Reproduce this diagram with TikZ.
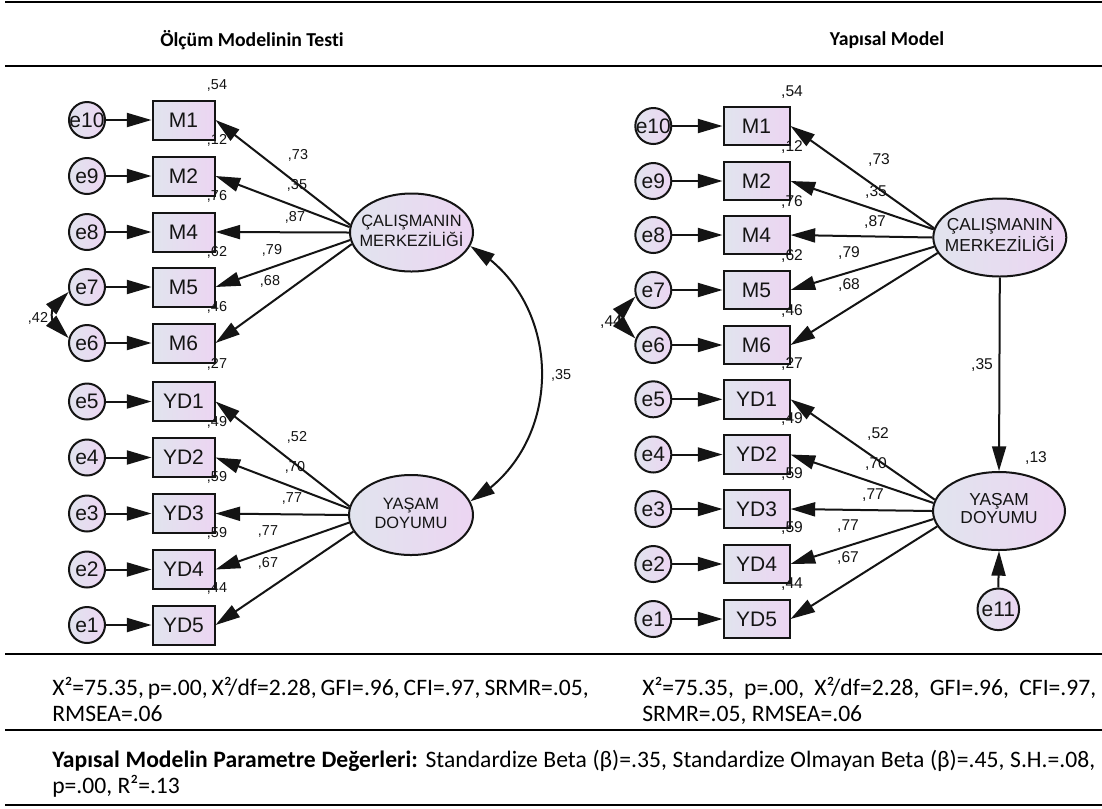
\documentclass[tikz,border=0pt]{standalone}
\usepackage{fontspec}
\setmainfont{Liberation Sans}
\newfontfamily\calib[RawFeature={-liga}]{Carlito}
\usetikzlibrary{arrows.meta,shapes.geometric,bending}
\definecolor{fa}{RGB}{225,228,238}
\definecolor{fb}{RGB}{236,213,242}
\definecolor{ink}{RGB}{20,20,20}
\newcommand{\twol}[2]{\makebox[0pt]{\begin{tabular}{@{}c@{}}#1\\#2\end{tabular}}}
\begin{document}
\begin{tikzpicture}[x=0.75pt,y=-0.75pt,
  every node/.style={text=ink},
  obs/.style={draw=ink,line width=1.5pt,rectangle,left color=fa,right color=fb,minimum width=62*0.75pt,minimum height=39*0.75pt,inner sep=0pt,font=\fontsize{15.75}{18}\selectfont},
  obsR/.style={obs,minimum width=66*0.75pt,minimum height=38.5*0.75pt},
  err/.style={draw=ink,line width=1.5pt,circle,left color=fa,right color=fb,minimum size=36*0.75pt,inner sep=0pt,font=\fontsize{15.75}{18}\selectfont},
  lat/.style={draw=ink,line width=1.5pt,ellipse,left color=fa,right color=fb,inner sep=0pt},
  arr/.style={line width=1.5pt,draw=ink,-{Triangle[length=18.5pt,width=10.5pt]}},
  dbl/.style={line width=1.5pt,draw=ink,{Triangle[length=18.5pt,width=10.5pt,flex]}-{Triangle[length=18.5pt,width=10.5pt,flex]}},
  coef/.style={font=\fontsize{10.8}{12}\selectfont,inner sep=0pt},
  coefR/.style={font=\fontsize{11.7}{13}\selectfont,inner sep=0pt},
  txt/.style={font=\calib\fontsize{17.7}{21.75}\selectfont,inner sep=0pt,anchor=base west,text=black},
  head/.style={font=\calib\bfseries\fontsize{14.8}{18}\selectfont,inner sep=0pt,text=black},
  thick rule/.style={line width=2pt},
  thin rule/.style={line width=0.8pt},
]
\useasboundingbox (0,0) rectangle (1102,808);
\fill[white] (0,0) rectangle (1102,808);

% rules
\draw[thick rule] (5,2) -- (1102,2);
\draw[thin rule] (5,66) -- (573,66);
\draw[thick rule] (573,66) -- (1102,66);
\draw[thin rule] (5,654) -- (573,654);
\draw[thick rule] (573,654) -- (1102,654);
\draw[thick rule] (5,730) -- (1102,730);
\draw[thick rule] (5,805) -- (1102,805);

% headings
\node[head] (h1) at (252,40) {Ölçüm Modelinin Testi};
\node[head] (h2) at (887,40) {Yapısal Model};

% ---------- left panel ----------
\foreach \n/\e/\y in {M1/e10/120, M2/e9/176, M4/e8/232, M5/e7/287, M6/e6/343, YD1/e5/401.5, YD2/e4/457.5, YD3/e3/513.5, YD4/e2/569.5, YD5/e1/625} {
  \node[err] (L\e) at (87,\y) {\makebox[0pt]{\e}};
  \node[obs] (L\n) at (183.5,\y) {\n};
  \draw[arr] (L\e) -- (L\n);
}
\node[lat,minimum width=123*0.75pt,minimum height=78*0.75pt,font=\fontsize{12.3}{14}\selectfont] (LC) at (411.5,232.5) {\twol{ÇALIŞMANIN}{MERKEZİLİĞİ}};
\node[lat,minimum width=124*0.75pt,minimum height=80*0.75pt,font=\fontsize{12.3}{14}\selectfont] (LY) at (411,515) {\twol{YAŞAM}{DOYUMU}};
\foreach \n/\a in {M1/173, M2/175, M4/180, M5/187, M6/191} \draw[arr] (LC.\a) -- (L\n.east);
\foreach \n/\a in {YD1/172, YD2/174, YD3/180, YD4/187, YD5/196} \draw[arr] (LY.\a) -- (L\n.east);
\draw[dbl] (LC.-13) .. controls (566,300) and (566,448) .. (LY.13);
\draw[dbl] (Le7.195) .. controls (46,303) and (46,327) .. (Le6.165);

\foreach \v/\y in {54/85, 12/140, 76/196, 62/252, 46/307, 27/364, 49/422, 59/477, 59/533, 44/588}
  \node[coef] at (217,\y) {,\v};
\foreach \v/\x/\y in {73/298/155, 35/297/185, 87/295/217, 79/272/250, 68/270/281, 52/297/437, 70/295/467, 77/292/498, 77/268/531, 67/268/563}
  \node[coef] at (\x,\y) {,\v};
\node[coef] at (38,318) {,42};
\node[coef] at (561,375) {,35};

% ---------- right panel ----------
\foreach \n/\e/\y in {M1/e10/126, M2/e9/181, M4/e8/235, M5/e7/290, M6/e6/345, YD1/e5/399.3, YD2/e4/454.5, YD3/e3/509, YD4/e2/564, YD5/e1/619} {
  \node[err] (R\e) at (653.3,\y) {\makebox[0pt]{\e}};
  \node[obsR] (R\n) at (756.5,\y) {\n};
  \draw[arr] (R\e) -- (R\n);
}
\node[lat,minimum width=133*0.75pt,minimum height=78*0.75pt,font=\fontsize{13}{13.8}\selectfont] (RC) at (999.8,237.5) {\twol{ÇALIŞMANIN}{MERKEZİLİĞİ}};
\node[lat,minimum width=132*0.75pt,minimum height=78*0.75pt,font=\fontsize{13}{13.8}\selectfont] (RY) at (999,511) {\twol{YAŞAM}{DOYUMU}};
\node[err,minimum size=41.6*0.75pt] (Re11) at (998.3,609.3) {\makebox[0pt]{e11}};
\foreach \n/\a in {M1/172, M2/173, M4/180, M5/188, M6/194} \draw[arr] (RC.\a) -- (R\n.east);
\foreach \n/\a in {YD1/170, YD2/173, YD3/180, YD4/187, YD5/194} \draw[arr] (RY.\a) -- (R\n.east);
\draw[arr] (RC.south) -- (RY.north);
\draw[arr] (Re11.north) -- (RY.south);
\draw[dbl] (Re7.200) .. controls (614,305) and (614,330) .. (Re6.160);

\foreach \v/\y in {54/92, 12/147, 76/202, 62/256, 46/311, 27/364, 49/419, 59/474, 59/528, 44/584}
  \node[coefR] at (792,\y) {,\v};
\foreach \v/\x/\y in {73/879/160, 35/876/192, 87/875/222, 79/849/253, 68/849/285, 52/878/434, 70/876/464, 77/873/495, 77/848/526, 67/848/558}
  \node[coefR] at (\x,\y) {,\v};
\node[coefR] at (982,365) {,35};
\node[coefR] at (1036,458) {,13};
\node[coefR] at (611,322) {,44};

% ---------- bottom texts ----------
\node[txt] (f1a) at (52,695) {\makebox[393.75pt][s]{X²=75.35, p=.00, X²/df=2.28, GFI=.96, CFI=.97, SRMR=.05,}};
\node[txt] (f1b) at (52,721) {RMSEA=.06};
\node[txt] (f2a) at (642,695) {\makebox[340.5pt][s]{X²=75.35, p=.00, X²/df=2.28, GFI=.96, CFI=.97,}};
\node[txt] (f2b) at (642,721) {SRMR=.05, RMSEA=.06};
\node[txt] (p1) at (52,767) {\makebox[782.25pt][s]{\textbf{Yapısal Modelin Parametre Değerleri:} Standardize Beta (β)=.35, Standardize Olmayan Beta (β)=.45, S.H.=.08,}};
\node[txt] (p2) at (52,793) {p=.00, R²=.13};
\end{tikzpicture}
\end{document}
